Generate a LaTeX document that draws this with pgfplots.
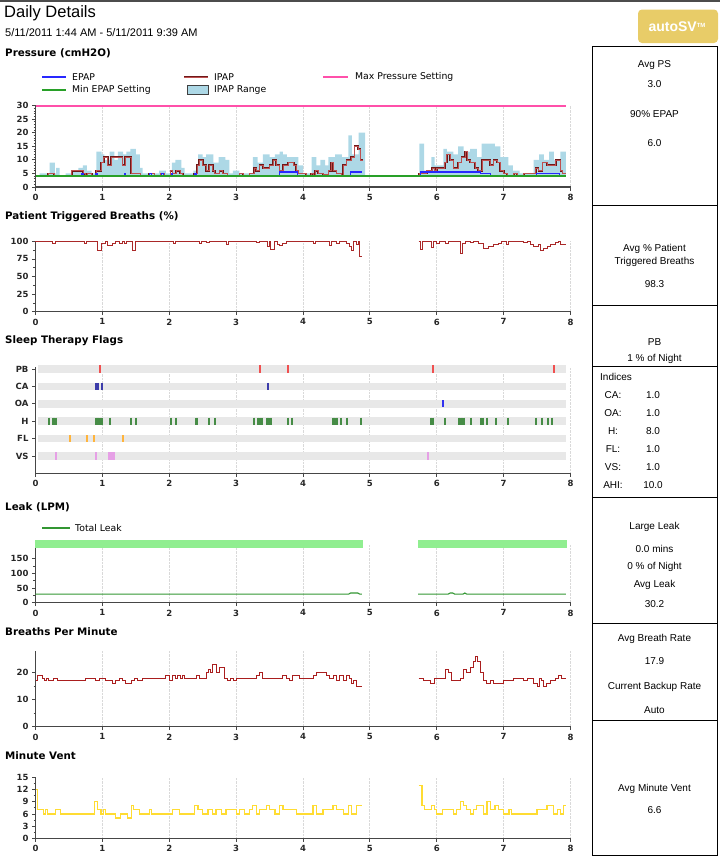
\documentclass[border=0pt]{standalone}
\usepackage{fontspec}
\setmainfont{DejaVu Sans}
\newfontfamily\lib{Liberation Sans}
\usepackage{pgfplots}
\pgfplotsset{compat=1.18}
\definecolor{axgray}{RGB}{70,70,70}
\definecolor{epap}{RGB}{40,40,255}
\definecolor{ipapd}{RGB}{110,25,25}
\definecolor{ipapl}{RGB}{190,80,80}
\definecolor{maxpink}{RGB}{255,80,170}
\definecolor{minep}{RGB}{40,160,40}
\definecolor{iprange}{RGB}{173,216,230}
\definecolor{ptb}{RGB}{170,40,40}
\definecolor{flaggray}{RGB}{232,232,232}
\definecolor{fpb}{RGB}{240,80,80}
\definecolor{fca}{RGB}{60,60,170}
\definecolor{foa}{RGB}{50,50,240}
\definecolor{fh}{RGB}{70,140,70}
\definecolor{ffl}{RGB}{255,180,60}
\definecolor{fvs}{RGB}{230,160,230}
\definecolor{leak}{RGB}{50,150,50}
\definecolor{leakband}{RGB}{144,238,144}
\definecolor{bpm}{RGB}{170,30,30}
\definecolor{mv}{RGB}{255,220,50}
\definecolor{badge}{RGB}{232,204,104}
\pgfplotsset{
 panel/.style={
  scale only axis, width=535pt, anchor=south west,
  xmin=0, xmax=8, xtick={0,1,...,8},
  axis x line*=bottom, axis y line*=left,
  axis line style={draw=axgray, line width=1.3pt},
  tick style={draw=axgray, line width=0.8pt},
  tick align=outside, major tick length=3.5pt, minor tick length=2pt,
  xmajorgrids, major grid style={draw=gray!30, densely dotted, line width=0.9pt},
  ticklabel style={font=\bfseries\fontsize{8.5}{9}\selectfont, text=black!85},
  /pgf/number format/assume math mode=true,
  clip=false,
 },
 flag/.style={only marks, mark=|, mark size=3.6pt, mark options={draw=#1, line width=2pt}},
}
\tikzset{
 ttl/.style={anchor=west, inner sep=0pt, font=\bfseries\fontsize{10.3}{11}\selectfont},
 leg/.style={anchor=west, inner sep=0pt, font=\fontsize{9.3}{10}\selectfont},
 box/.style={inner sep=0pt, font=\lib\fontsize{10}{11}\selectfont},
}
\begin{document}
\begin{tikzpicture}[x=1pt,y=1pt]
\useasboundingbox (0,0) rectangle (720,-857);
% header
\draw[draw=black!70, line width=1.5pt] (0,-1.2) -- (720,-1.2);
\node[anchor=west, inner sep=0pt, font=\lib\fontsize{16.5}{17}\selectfont] at (4,-13) {Daily Details};
\node[anchor=west, inner sep=0pt, font=\lib\fontsize{11}{11}\selectfont] at (5,-33) {5/11/2011 1:44 AM - 5/11/2011 9:39 AM};
\fill[fill=badge, rounded corners=4pt] (638,-9.5) rectangle (718,-43);
\node[text=white, font=\lib\bfseries\fontsize{14}{14}\selectfont] at (677,-26.5) {autoSV\raisebox{4pt}{\fontsize{6}{6}\selectfont TM}};
% titles
\node[ttl] at (5,-53) {Pressure (cmH2O)};
\node[ttl] at (5,-216.5) {Patient Triggered Breaths (\%)};
\node[ttl] at (5,-341) {Sleep Therapy Flags};
\node[ttl] at (5,-507.5) {Leak (LPM)};
\node[ttl] at (5,-632) {Breaths Per Minute};
\node[ttl] at (5,-756) {Minute Vent};
% pressure legend
\draw[draw=epap, line width=1.2pt] (42,-77) -- (66,-77); \node[leg] at (72,-77) {EPAP};
\draw[draw=ipapd, line width=0.6pt, double=ipapl, double distance=0.6pt] (184,-77) -- (208,-77); \node[leg] at (214,-77) {IPAP};
\draw[draw=maxpink, line width=1.4pt] (323,-77) -- (348,-77); \node[leg] at (355,-77) {Max Pressure Setting};
\draw[draw=minep, line width=1.3pt] (42,-90) -- (66,-90); \node[leg] at (72,-90) {Min EPAP Setting};
\draw[fill=iprange, draw=black!75, line width=0.9pt] (187.5,-85.5) rectangle (208.5,-94.5); \node[leg] at (214,-90) {IPAP Range};
% leak legend
\draw[draw=leak, line width=1.2pt] (42,-528) -- (70,-528); \node[leg] at (75,-528) {Total Leak};

% ---------------- Pressure ----------------
\begin{axis}[panel, at={(35.5pt,-187pt)}, height=81.5pt, ymin=0, ymax=30, ytick={0,5,...,30}, minor y tick num=4]
\addplot[draw=maxpink, line width=2pt] coordinates {(0,30)(7.93,30)};
\addplot[fill=iprange, draw=none, const plot] coordinates {
(0.06,4)(0.06,5)(0.21,9)(0.29,5)(0.31,7)(0.36,4)(0.45,5)(0.54,6)(0.64,7)(0.71,8)(0.77,6)(0.84,5)
(0.91,13)(0.99,12)(1.03,10)(1.11,13)(1.18,10)(1.23,13)(1.31,12)(1.36,13)(1.42,14)(1.5,12)(1.56,7)(1.6,5)
(1.85,6)(1.95,5)(2.04,9)(2.09,10)(2.18,7)(2.23,5)(2.36,6)(2.43,12)(2.5,11)(2.55,12)(2.66,9)(2.74,11)(2.84,10)
(2.9,5)(2.95,6)(3.05,5)(3.25,11)(3.32,9)(3.4,12)(3.5,11)(3.58,12)(3.65,13)(3.7,12)(3.76,11)(3.93,8)(4.0,5)
(4.13,11)(4.2,8)(4.26,10)(4.33,8)(4.38,11)(4.48,12)(4.58,11)(4.68,19)(4.73,12)(4.83,20)(4.93,4)};
\addplot[fill=iprange, draw=none, const plot] coordinates {
(5.74,4)(5.74,16)(5.81,6)(5.92,11)(5.97,8)(6.1,14)(6.15,13)(6.25,12)(6.32,15)(6.4,13)(6.5,14)(6.6,11)
(6.67,16)(6.87,15)(6.95,11)(7.07,8)(7.14,6)(7.24,5)(7.45,10)(7.53,12)(7.6,10)(7.68,13)(7.75,10)(7.85,13)(7.93,4)};
\addplot[const plot, draw=ipapd, line width=0.6pt, double=ipapl, double distance=0.6pt] coordinates {
(0,4)(0.19,5)(0.28,4)(0.54,6)(0.71,5)(0.74,4)(0.77,5)(0.84,4)(0.91,6)(0.98,9)(1.02,11)(1.08,8)(1.13,11)
(1.3,8)(1.34,11)(1.43,5)(1.57,4)(1.7,5)(1.78,4)(1.87,5)(1.93,4)(2.02,6)(2.05,5)(2.1,6)(2.16,5)(2.2,4)
(2.37,5)(2.42,8)(2.45,10)(2.5,8)(2.55,6)(2.6,8)(2.65,6)(2.68,5)(2.75,6)(2.8,5)(2.87,4)(3.05,5)(3.1,4)
(3.2,5)(3.27,7)(3.3,6)(3.35,8)(3.4,7)(3.5,8)(3.55,10)(3.6,8)(3.65,6)(3.7,8)(3.78,9)(3.86,8)(3.9,6)(3.93,5)
(4.05,4)(4.12,5)(4.15,4)(4.18,6)(4.23,5)(4.3,4.5)(4.38,6)(4.42,9)(4.45,6)(4.5,5)(4.58,4)(4.6,8)(4.65,10)
(4.72,11)(4.77,15)(4.82,14)(4.86,10)(4.9,10)};
\addplot[const plot, draw=ipapd, line width=0.6pt, double=ipapl, double distance=0.6pt] coordinates {
(5.74,4)(5.74,5)(5.85,6)(5.93,7)(5.97,6)(6.0,7)(6.12,9)(6.15,12)(6.2,10)(6.25,7)(6.32,9)(6.37,11)(6.42,13)
(6.45,10)(6.5,9)(6.57,7)(6.62,6)(6.68,10)(6.8,8)(6.85,10)(6.9,9)(6.95,6)(7.0,5)(7.05,4)(7.15,5)(7.2,4)
(7.3,5)(7.48,7)(7.52,6)(7.58,9)(7.65,8)(7.78,10)(7.85,6)(7.88,5)(7.93,5)};
\addplot[const plot, draw=epap, line width=1.2pt] coordinates {
(0,4)(0.69,5)(0.71,4)(0.9,5)(0.92,4)(1.33,5)(1.35,4)(1.71,5)(1.73,4)(1.89,5)(1.91,4)(2.03,5)(2.05,4)
(2.38,5)(2.4,4)(3.65,5.5)(3.92,4)(4.71,5.5)(4.88,5.5)};
\addplot[const plot, draw=epap, line width=1.2pt] coordinates {
(5.74,4)(5.76,5.5)(6.65,5)(6.8,4)(7.49,5)(7.84,4)(7.93,4)};
\addplot[draw=minep, line width=1.3pt] coordinates {(0,4)(7.93,4)};
\end{axis}

% ---------------- Patient triggered ----------------
\begin{axis}[panel, at={(35.5pt,-311.7pt)}, height=70.4pt, ymin=0, ymax=100, ytick={0,25,...,100}, minor y tick num=1]
\addplot[const plot, draw=ptb, line width=1pt] coordinates {
(0,100)(0.25,97)(0.3,100)(0.74,97)(0.77,100)(0.93,87)(0.98,97)(1.05,100)(1.08,94)(1.15,97)(1.2,100)
(1.25,97)(1.3,100)(1.33,97)(1.36,100)(1.45,87)(1.5,100)(2.07,97)(2.1,100)(2.45,97)(2.48,100)(2.55,98)
(2.6,100)(2.85,96)(2.89,100)(3.3,98)(3.35,100)(3.47,92)(3.5,100)(3.52,88)(3.58,100)(3.62,95)(3.65,94)
(3.7,97)(3.75,100)(4.15,97)(4.19,100)(4.4,94)(4.43,100)(4.5,97)(4.55,100)(4.65,97)(4.69,92)(4.72,87)
(4.76,100)(4.8,95)(4.83,100)(4.85,79)(4.88,79)};
\addplot[const plot, draw=ptb, line width=1pt] coordinates {
(5.73,100)(5.76,88)(5.79,100)(5.92,91)(5.95,100)(6.0,97)(6.04,100)(6.13,97)(6.17,100)(6.35,83)(6.39,97)
(6.43,100)(6.5,98)(6.55,100)(6.62,97)(6.7,90)(6.77,93)(6.85,95)(6.92,97)(6.97,100)(7.04,96)(7.08,100)
(7.3,98)(7.35,100)(7.4,96)(7.45,92)(7.52,96)(7.55,87)(7.6,90)(7.65,93)(7.7,96)(7.78,98)(7.82,100)
(7.85,96)(7.93,96)};
\end{axis}

% ---------------- Sleep therapy flags ----------------
\begin{axis}[panel, at={(35.5pt,-473.4pt)}, height=106.1pt, ymin=0, ymax=6.1, ytick={1,...,6}, yticklabels={VS,FL,H,OA,CA,PB}]
\addplot[draw=flaggray, line width=7.5pt] coordinates {(0.03,6)(7.93,6)};
\addplot[draw=flaggray, line width=7.5pt] coordinates {(0.03,5)(7.93,5)};
\addplot[draw=flaggray, line width=7.5pt] coordinates {(0.03,4)(7.93,4)};
\addplot[draw=flaggray, line width=7.5pt] coordinates {(0.03,3)(7.93,3)};
\addplot[draw=flaggray, line width=7.5pt] coordinates {(0.03,2)(7.93,2)};
\addplot[draw=flaggray, line width=7.5pt] coordinates {(0.03,1)(7.93,1)};
\addplot[flag=fpb] coordinates {(0.96,6)(3.35,6)(3.78,6)(5.94,6)(7.75,6)};
\addplot[flag=fca] coordinates {(0.9,5)(0.94,5)(1.0,5)(3.47,5)};
\addplot[flag=foa] coordinates {(6.10,4)};
\addplot[flag=fh] coordinates {(0.2,3)(0.26,3)(0.28,3)(0.3,3)(0.9,3)(0.92,3)(0.94,3)(0.96,3)(0.98,3)(1.0,3)
(1.11,3)(1.43,3)(1.5,3)(2.02,3)(2.1,3)(2.4,3)(2.42,3)(2.6,3)(2.69,3)(3.27,3)(3.33,3)(3.35,3)(3.37,3)(3.39,3)
(3.46,3)(3.48,3)(3.5,3)(3.52,3)(3.77,3)(3.84,3)(4.45,3)(4.47,3)(4.49,3)(4.51,3)(4.57,3)(4.66,3)(4.87,3)
(5.91,3)(5.94,3)(6.13,3)(6.34,3)(6.36,3)(6.38,3)(6.41,3)(6.51,3)(6.66,3)(6.69,3)(6.75,3)(6.89,3)(7.07,3)
(7.48,3)(7.58,3)(7.67,3)(7.72,3)};
\addplot[flag=ffl] coordinates {(0.51,2)(0.77,2)(0.87,2)(1.31,2)};
\addplot[flag=fvs] coordinates {(0.3,1)(0.9,1)(1.1,1)(1.12,1)(1.14,1)(1.16,1)(1.18,1)(5.87,1)};
\end{axis}

% ---------------- Leak ----------------
\begin{axis}[panel, at={(35.5pt,-602.7pt)}, height=58.7pt, ymin=0, ymax=200, ytick={0,50,100,150}, minor y tick num=1]
\addplot[fill=leakband, draw=none] coordinates {(0,187)(4.9,187)(4.9,213)(0,213)};
\addplot[fill=leakband, draw=none] coordinates {(5.72,187)(7.95,187)(7.95,213)(5.72,213)};
\addplot[draw=leak, line width=1.1pt] coordinates {(0,29)(4.68,29)(4.71,33)(4.82,33)(4.85,29)(4.88,29)};
\addplot[draw=leak, line width=1.1pt] coordinates {(5.72,29)(6.17,29)(6.2,33)(6.24,33)(6.27,29)(6.39,29)(6.42,33)(6.45,29)(7.93,29)};
\end{axis}

% ---------------- Breaths per minute ----------------
\begin{axis}[panel, at={(35.5pt,-726.7pt)}, height=75.7pt, ymin=0, ymax=28, ytick={0,10,20}, minor y tick num=1]
\addplot[const plot, draw=bpm, line width=1pt] coordinates {
(0,17)(0.03,19)(0.1,18)(0.13,17)(0.17,18)(0.2,17)(0.27,18)(0.33,17)(0.75,18)(0.9,17)(0.95,18)(1.05,17)
(1.15,16)(1.2,17)(1.25,18)(1.3,17)(1.35,16)(1.43,17)(1.48,18)(1.52,17)(1.6,18)(1.95,19)(2.0,17)(2.05,19)
(2.1,18)(2.13,19)(2.17,18)(2.2,19)(2.23,18)(2.4,19)(2.45,18)(2.55,20)(2.58,21)(2.62,20)(2.65,23)(2.7,20)
(2.75,22)(2.82,18)(2.87,17)(2.92,18)(2.96,17)(3.0,18)(3.3,19)(3.35,20)(3.4,18)(3.7,19)(3.75,18)(3.8,17)
(3.85,19)(3.95,18)(4.15,19)(4.2,20)(4.35,19)(4.4,18)(4.45,19)(4.5,17)(4.55,19)(4.6,17)(4.65,19)(4.7,18)
(4.72,16)(4.75,17)(4.8,15)(4.88,15)};
\addplot[const plot, draw=bpm, line width=1pt] coordinates {
(5.73,18)(5.8,17)(5.9,16)(5.97,18)(6.13,21)(6.18,20)(6.22,17)(6.35,18)(6.4,21)(6.45,20)(6.5,22)(6.55,24)
(6.58,26)(6.61,24)(6.65,20)(6.7,17)(6.75,16)(6.8,17)(6.85,16)(7.0,17)(7.15,18)(7.3,17)(7.35,18)(7.45,16)
(7.5,15)(7.53,18)(7.56,17)(7.6,15)(7.64,16)(7.7,17)(7.78,18)(7.82,19)(7.87,18)(7.93,18)};
\end{axis}

% ---------------- Minute vent ----------------
\begin{axis}[panel, at={(35.5pt,-838.3pt)}, height=61pt, ymin=0, ymax=15, ytick={0,3,...,15}, minor y tick num=1]
\addplot[const plot, draw=mv, line width=1.2pt] coordinates {
(0,12)(0.03,7)(0.12,6)(0.15,7)(0.18,6)(0.3,7)(0.37,6)(0.88,9)(0.93,7)(0.98,6)(1.02,7)(1.05,6)(1.2,5)
(1.27,6)(1.37,5)(1.43,8)(1.47,7)(1.55,6)(1.7,7)(1.73,6)(2.05,7)(2.15,6)(2.38,8)(2.43,7)(2.5,6)(2.58,7)
(2.65,6)(2.7,7)(2.78,6)(2.85,7)(3.0,6)(3.05,7)(3.12,6)(3.2,7)(3.25,8)(3.3,6)(3.35,7)(3.45,8)(3.5,7)
(3.58,6)(3.65,8)(3.7,7)(3.9,6)(4.15,8)(4.2,6)(4.3,7)(4.45,8)(4.5,7)(4.6,6)(4.68,8)(4.72,6)(4.8,8)(4.88,8)};
\addplot[const plot, draw=mv, line width=1.2pt] coordinates {
(5.73,13)(5.78,8)(5.82,7)(5.92,8)(5.97,7)(6.0,6)(6.08,7)(6.25,6)(6.3,7)(6.35,9)(6.4,8)(6.45,7)(6.5,6)
(6.55,7)(6.6,8)(6.7,6)(6.75,9)(6.8,7)(6.87,8)(6.92,7)(7.0,6)(7.08,7)(7.12,6)(7.5,7)(7.65,8)(7.75,6)
(7.8,7)(7.85,6)(7.9,8)(7.93,8)};
\end{axis}

% ---------------- right column boxes ----------------
\draw[draw=black, line width=0.8pt] (592,-46) rectangle (717,-855);
\foreach \yy in {205,305,366,497,623,720} \draw[draw=black, line width=0.8pt] (592,-\yy) -- (717,-\yy);
\node[box] at (654.5,-65) {Avg PS};
\node[box] at (654.5,-84) {3.0};
\node[box] at (654.5,-114) {90\% EPAP};
\node[box] at (654.5,-143) {6.0};
\node[box] at (654.5,-249) {Avg \% Patient};
\node[box] at (654.5,-262) {Triggered Breaths};
\node[box] at (654.5,-284) {98.3};
\node[box] at (654.5,-342) {PB};
\node[box] at (654.5,-359) {1 \% of Night};
\node[box, anchor=west] at (600,-377) {Indices};
\foreach \lab/\val/\yy in {CA:/1.0/395, OA:/1.0/413, H:/8.0/431, FL:/1.0/449, VS:/1.0/467, AHI:/10.0/485}{
  \node[box] at (613,-\yy) {\lab};
  \node[box] at (653,-\yy) {\val};
}
\node[box] at (654.5,-527) {Large Leak};
\node[box] at (654.5,-549) {0.0 mins};
\node[box] at (654.5,-567) {0 \% of Night};
\node[box] at (654.5,-585) {Avg Leak};
\node[box] at (654.5,-604) {30.2};
\node[box] at (654.5,-639) {Avg Breath Rate};
\node[box] at (654.5,-661) {17.9};
\node[box] at (654.5,-687) {Current Backup Rate};
\node[box] at (654.5,-710) {Auto};
\node[box] at (654.5,-789) {Avg Minute Vent};
\node[box] at (654.5,-810) {6.6};
\end{tikzpicture}
\end{document}
